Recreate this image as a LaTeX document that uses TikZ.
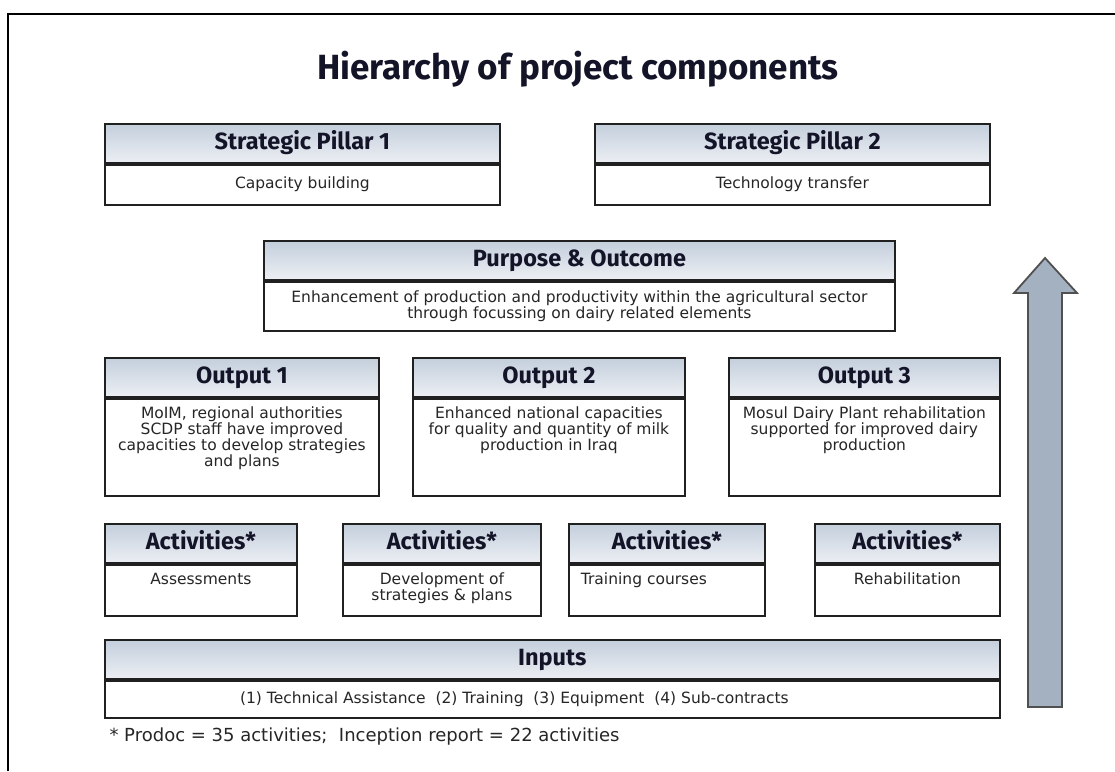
\documentclass[tikz,border=0pt]{standalone}
\usepackage{fontspec}
\setmainfont{DejaVu Sans}
\newfontfamily\headfont{Fira Sans}
\usetikzlibrary{positioning}

\definecolor{edge}{RGB}{32,32,32}
\definecolor{headtop}{RGB}{196,207,220}
\definecolor{headbot}{RGB}{236,239,244}
\definecolor{headink}{RGB}{20,20,40}
\definecolor{bodyink}{RGB}{38,38,38}
\definecolor{arrowfill}{RGB}{163,177,193}
\definecolor{arrowedge}{RGB}{80,80,80}

% body cell with the text hanging from the top
\newcommand{\topcell}[4][\centering]{\parbox[t][#3][t]{#2}{#1\vspace*{8pt}#4}}

\begin{document}
\begin{tikzpicture}[
        x = 1pt, y = -1pt, % pixel like units, y going down
        title/.style = {font=\headfont\bfseries\fontsize{35}{38}\selectfont, text=headink, anchor=base},
        head/.style = {draw=edge, line width=1.8pt, top color=headtop, bottom color=headbot,
                       text=headink, font=\headfont\bfseries\fontsize{23.5}{26}\selectfont,
                       minimum width=#1, minimum height=39pt, text height=17pt, text depth=5pt,
                       inner sep=0pt, anchor=north west},
        body/.style = {draw=edge, line width=1.8pt, fill=white, text=bodyink,
                       font=\fontsize{15.5}{14.5}\selectfont, minimum width=#1,
                       inner sep=0pt, align=center},
        note/.style = {font=\fontsize{18}{20}\selectfont, text=bodyink, anchor=base west}
    ]

    \useasboundingbox (0,0) rectangle (1115,771);

    % outer frame
    \draw[line width=2.4pt] (8,771) -- (8,14) -- (1115,14);

    \node[title] (title) at (578,79) {Hierarchy of project components};

    % strategic pillars
    \node[head=395pt] (pil1) at (104,123) {Strategic Pillar 1};
    \node[body=395pt, minimum height=40pt, below=0pt of pil1] (pil1b) {Capacity building};
    \node[head=395pt] (pil2) at (594,123) {Strategic Pillar 2};
    \node[body=395pt, minimum height=40pt, below=0pt of pil2] (pil2b) {Technology transfer};

    % purpose
    \node[head=631pt] (purp) at (263,240) {Purpose \& Outcome};
    \node[body=631pt, minimum height=49pt, font=\fontsize{15.5}{16}\selectfont,
          below=0pt of purp] (purpb)
        {Enhancement of production and productivity within the agricultural sector\\
         through focussing on dairy related elements};

    % outputs
    \node[head=274pt] (out1) at (104,357) {Output 1};
    \node[body=274pt, below=0pt of out1] (out1b)
        {\topcell{274pt}{97pt}{MoIM, regional authorities\\SCDP staff have improved\\
         capacities to develop strategies\\and plans}};
    \node[head=272pt] (out2) at (412,357) {Output 2};
    \node[body=272pt, below=0pt of out2] (out2b)
        {\topcell{272pt}{97pt}{Enhanced national capacities\\for quality and quantity of milk\\
         production in Iraq}};
    \node[head=271pt] (out3) at (728,357) {Output 3};
    \node[body=271pt, below=0pt of out3] (out3b)
        {\topcell{271pt}{97pt}{Mosul Dairy Plant rehabilitation\\supported for improved dairy\\
         production}};

    % activities
    \node[head=192pt] (act1) at (104,523) {Activities*};
    \node[body=192pt, below=0pt of act1] (act1b) {\topcell{192pt}{51pt}{Assessments}};
    \node[head=198pt] (act2) at (342,523) {Activities*};
    \node[body=198pt, below=0pt of act2] (act2b)
        {\topcell{198pt}{51pt}{Development of\\strategies \& plans}};
    \node[head=196pt] (act3) at (568,523) {Activities*};
    \node[body=196pt, below=0pt of act3] (act3b)
        {\topcell[\raggedright]{196pt}{51pt}{\hspace*{12pt}Training courses}};
    \node[head=185pt] (act4) at (814,523) {Activities*};
    \node[body=185pt, below=0pt of act4] (act4b) {\topcell{185pt}{51pt}{Rehabilitation}};

    % inputs
    \node[head=895pt] (inp) at (104,639) {Inputs};
    \node[body=895pt, minimum height=37pt, below=0pt of inp] (inpb)
        {(1) Technical Assistance\ \ (2) Training\ \ (3) Equipment\ \ (4) Sub-contracts\hspace*{76pt}};

    \node[note] (foot) at (106,741) {* Prodoc = 35 activities;\ \ Inception report = 22 activities};

    % upward arrow
    \draw[line width=1.8pt, draw=arrowedge, fill=arrowfill, line join=miter]
        (1045,258) -- (1077,293) -- (1062,293) -- (1062,707)
        -- (1028,707) -- (1028,293) -- (1014,293) -- cycle;

\end{tikzpicture}
\end{document}
